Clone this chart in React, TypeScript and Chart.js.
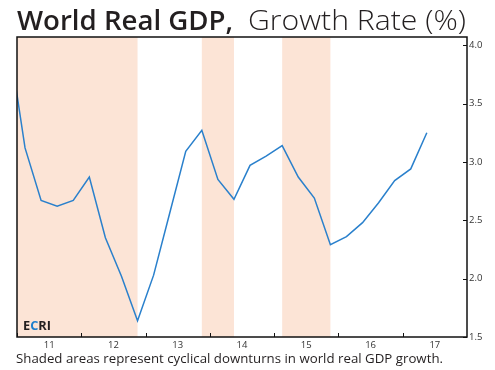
import React, { useEffect, useRef } from "react";
import { Chart, registerables } from "chart.js";

Chart.register(...registerables);

const quarters = [
  "2010Q4",
  "2011Q1", "2011Q2", "2011Q3", "2011Q4",
  "2012Q1", "2012Q2", "2012Q3", "2012Q4",
  "2013Q1", "2013Q2", "2013Q3", "2013Q4",
  "2014Q1", "2014Q2", "2014Q3", "2014Q4",
  "2015Q1", "2015Q2", "2015Q3", "2015Q4",
  "2016Q1", "2016Q2", "2016Q3", "2016Q4",
  "2017Q1", "2017Q2",
];
const growth = [
  4.03,
  3.12, 2.67, 2.62, 2.67,
  2.87, 2.35, 2.02, 1.64,
  2.03, 2.56, 3.09, 3.27,
  2.85, 2.68, 2.97, 3.05,
  3.14, 2.87, 2.69, 2.29,
  2.36, 2.48, 2.65, 2.84,
  2.94, 3.25,
];
const downturns = [
  ["2010Q4", "2012Q4"],
  ["2013Q4", "2014Q2"],
  ["2015Q1", "2015Q4"],
];
const xYears = [2011, 2012, 2013, 2014, 2015, 2016, 2017];
const xTickLabels = ["11", "12", "13", "14", "15", "16", "17"];
const yTicks = [1.5, 2.0, 2.5, 3.0, 3.5, 4.0];

const titleBold = "World Real GDP,";
const titleLight = "Growth Rate (%)";
const footnote = "Shaded areas represent cyclical downturns in world real GDP growth.";

const qx = (q: string) => {
  const y = parseInt(q.slice(0, 4), 10);
  const n = parseInt(q.slice(5), 10);
  return y + (n - 0.5) / 4;
};

function fitText(ctx: CanvasRenderingContext2D, text: string, x: number, y: number, font: string, width: number) {
  ctx.save();
  ctx.font = font;
  const w = ctx.measureText(text).width;
  ctx.translate(x, y);
  ctx.scale(width / w, 1);
  ctx.textAlign = "left";
  ctx.textBaseline = "alphabetic";
  ctx.fillText(text, 0, 0);
  ctx.restore();
}

const decor = {
  id: "decor",
  beforeDatasetsDraw(chart: any) {
    const { ctx, chartArea } = chart;
    const xs = chart.scales.x;
    ctx.save();
    ctx.beginPath();
    ctx.rect(chartArea.left, chartArea.top, chartArea.right - chartArea.left, chartArea.bottom - chartArea.top);
    ctx.clip();
    ctx.fillStyle = "#fce4d6";
    downturns.forEach(([a, b]) => {
      const x1 = xs.getPixelForValue(qx(a));
      const x2 = xs.getPixelForValue(qx(b));
      ctx.fillRect(x1, chartArea.top, x2 - x1, chartArea.bottom - chartArea.top);
    });
    ctx.restore();
  },
  afterDraw(chart: any) {
    const { ctx, chartArea } = chart;
    const xs = chart.scales.x;
    const ys = chart.scales.y;
    ctx.save();
    ctx.strokeStyle = "#111";
    ctx.lineWidth = 1.5;
    ctx.strokeRect(chartArea.left, chartArea.top, chartArea.right - chartArea.left, chartArea.bottom - chartArea.top);
    ctx.lineWidth = 1;
    ctx.beginPath();
    xYears.forEach((yr) => {
      const px = Math.round(xs.getPixelForValue(yr)) + 0.5;
      ctx.moveTo(px, chartArea.bottom);
      ctx.lineTo(px, chartArea.bottom - 4);
    });
    yTicks.forEach((v) => {
      const py = Math.round(ys.getPixelForValue(v)) + 0.5;
      ctx.moveTo(chartArea.right, py);
      ctx.lineTo(chartArea.right - 4, py);
    });
    ctx.stroke();
    ctx.fillStyle = "#333";
    ctx.font = "9.5px 'Open Sans'";
    ctx.textAlign = "center";
    ctx.textBaseline = "middle";
    xYears.forEach((yr, i) => {
      ctx.fillText(xTickLabels[i], xs.getPixelForValue(yr + 0.5), chartArea.bottom + 8);
    });
    // ECRI logo
    ctx.save();
    ctx.font = "bold 11.5px 'Open Sans'";
    const total = ctx.measureText("ECRI").width;
    ctx.translate(chartArea.left + 6, chartArea.bottom - 7.5);
    ctx.scale(28 / total, 1);
    ctx.textAlign = "left";
    ctx.textBaseline = "alphabetic";
    let lx = 0;
    ctx.fillStyle = "#231f20";
    ctx.fillText("E", lx, 0);
    lx += ctx.measureText("E").width;
    ctx.fillStyle = "#1f7fcc";
    ctx.fillText("C", lx, 0);
    lx += ctx.measureText("C").width;
    ctx.fillStyle = "#231f20";
    ctx.fillText("RI", lx, 0);
    ctx.restore();
    ctx.fillStyle = "#231f20";
    fitText(ctx, titleBold, 17, 30, "600 27px 'Open Sans'", 216);
    fitText(ctx, titleLight, 248, 30, "300 27px 'Open Sans'", 218);
    fitText(ctx, footnote, 16, 363, "13.5px 'Open Sans'", 427);
    ctx.restore();
  },
};

export default function App() {
  const ref = useRef<HTMLCanvasElement | null>(null);
  useEffect(() => {
    if (!ref.current) return;
    const chart = new Chart(ref.current, {
      type: "line",
      data: {
        datasets: [
          {
            data: quarters.map((q, i) => ({ x: qx(q), y: growth[i] })),
            borderColor: "#2a80cc",
            borderWidth: 1.5,
            pointRadius: 0,
            tension: 0,
            fill: false,
          },
        ],
      },
      options: {
        responsive: false,
        animation: false,
        layout: { padding: { left: 17, top: 37, right: 0, bottom: 0 } },
        plugins: { legend: { display: false }, title: { display: false }, tooltip: { enabled: false } },
        scales: {
          x: {
            type: "linear",
            min: 2011,
            max: 2018,
            ticks: { display: false },
            grid: { display: false },
            border: { display: false },
            afterFit: (s: any) => {
              s.height = 33;
            },
          },
          y: {
            position: "right",
            min: 1.5,
            max: 4.07,
            afterBuildTicks: (s: any) => {
              s.ticks = yTicks.map((v) => ({ value: v }));
            },
            ticks: {
              padding: 2,
              color: "#333",
              font: { family: "'Open Sans'", size: 9.5 },
              callback: (v: any) => Number(v).toFixed(1),
            },
            grid: { display: false, drawTicks: false },
            border: { display: false },
            afterFit: (s: any) => {
              s.width = 28;
            },
          },
        },
      },
      plugins: [decor],
    });
    return () => chart.destroy();
  }, []);
  return (
    <div style={{ position: "fixed", left: 0, top: 0, width: 495, height: 370, background: "#fff" }}>
      <canvas ref={ref} width={495} height={370} style={{ display: "block" }} />
    </div>
  );
}
